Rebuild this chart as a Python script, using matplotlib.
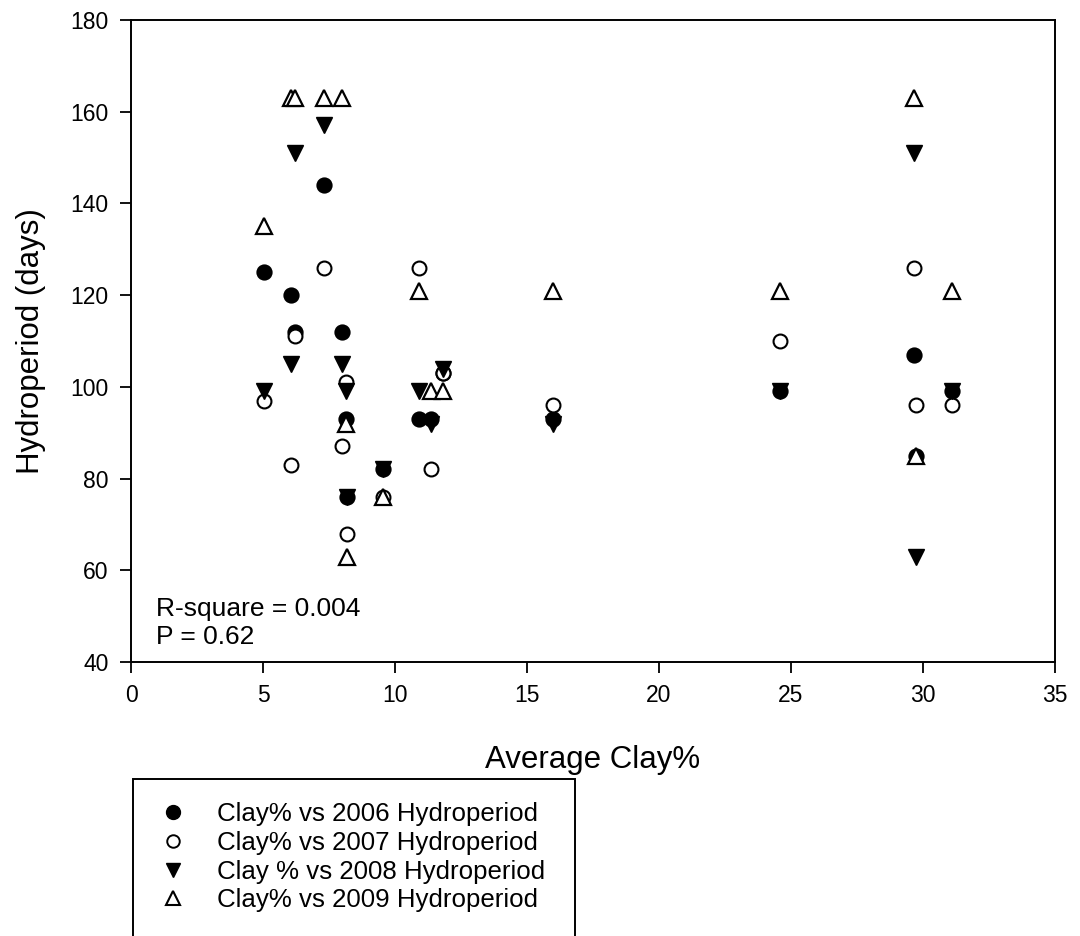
import matplotlib
matplotlib.use("Agg")
import matplotlib.pyplot as plt
from matplotlib.lines import Line2D
from matplotlib.patches import Rectangle

plt.rcParams['font.family'] = ['Liberation Sans', 'DejaVu Sans']

# average clay % per site
clay = [5.05, 6.05, 6.22, 7.3, 8.0, 8.15, 8.2, 9.56, 10.9, 11.35, 11.8,
        16.0, 24.6, 29.65, 29.75, 31.1]
# hydroperiod (days) per site and year
hp2006 = [125, 120, 112, 144, 112, 93, 76, 82, 93, 93, 103,
          93, 99, 107, 85, 99]
hp2007 = [97, 83, 111, 126, 87, 101, 68, 76, 126, 82, 103,
          96, 110, 126, 96, 96]
hp2008 = [99, 105, 151, 157, 105, 99, 76, 82, 99, 92, 104,
          92, 99, 151, 63, 99]
hp2009 = [135, 163, 163, 163, 163, 92, 63, 76, 121, 99, 99,
          121, 121, 163, 85, 121]

labels = ["Clay% vs 2006 Hydroperiod", "Clay% vs 2007 Hydroperiod",
          "Clay % vs 2008 Hydroperiod", "Clay% vs 2009 Hydroperiod"]

fig = plt.figure(figsize=(10.8, 9.36), dpi=100)
ax = fig.add_axes([131/1080, 1-662/936, (1055-131)/1080, (662-20)/936])

ax.plot(clay, hp2006, 'o', ms=10.5, mfc='black', mec='black', mew=1.2, ls='none')
ax.plot(clay, hp2007, 'o', ms=10, mfc='white', mec='black', mew=1.5, ls='none')
ax.plot(clay, hp2008, 'v', ms=11.5, mfc='black', mec='black', mew=1.0, ls='none')
ax.plot(clay, hp2009, '^', ms=11.5, mfc='white', mec='black', mew=1.6, ls='none')

ax.set_xlim(0, 35)
ax.set_ylim(40, 180)
ax.set_xticks(range(0, 36, 5))
ax.set_yticks(range(40, 181, 20))
ax.tick_params(direction='out', length=8, width=1.3, labelsize=16.5, pad=8)
for s in ax.spines.values():
    s.set_linewidth(1.4)

ax.set_xlabel("Average Clay%", fontsize=22.5, labelpad=27)
ax.set_ylabel("Hydroperiod (days)", fontsize=22.5, labelpad=18)

ax.text(0.027, 0.021, "R-square = 0.004\nP = 0.62", transform=ax.transAxes,
        fontsize=19, va='bottom', ha='left', linespacing=1.2)

handles = [
    Line2D([], [], marker='o', ms=10, mfc='black', mec='black', ls='none'),
    Line2D([], [], marker='o', ms=9, mfc='white', mec='black', mew=1.4, ls='none'),
    Line2D([], [], marker='v', ms=10.5, mfc='black', mec='black', ls='none'),
    Line2D([], [], marker='^', ms=10, mfc='white', mec='black', mew=1.5, ls='none'),
]
fig.legend(handles, labels, loc='upper left',
           bbox_to_anchor=(150/1080, 1-792/936), frameon=False,
           fontsize=18.6, handlelength=1.0, handletextpad=1.2,
           labelspacing=0.18, borderaxespad=0)

# legend frame runs off the bottom edge
fig.add_artist(Rectangle((133/1080, -0.01), (575-133)/1080, 0.01+(936-779)/936,
                         transform=fig.transFigure, fill=False,
                         edgecolor='black', linewidth=1.4, clip_on=False))

fig.savefig("out.png", dpi=100)
